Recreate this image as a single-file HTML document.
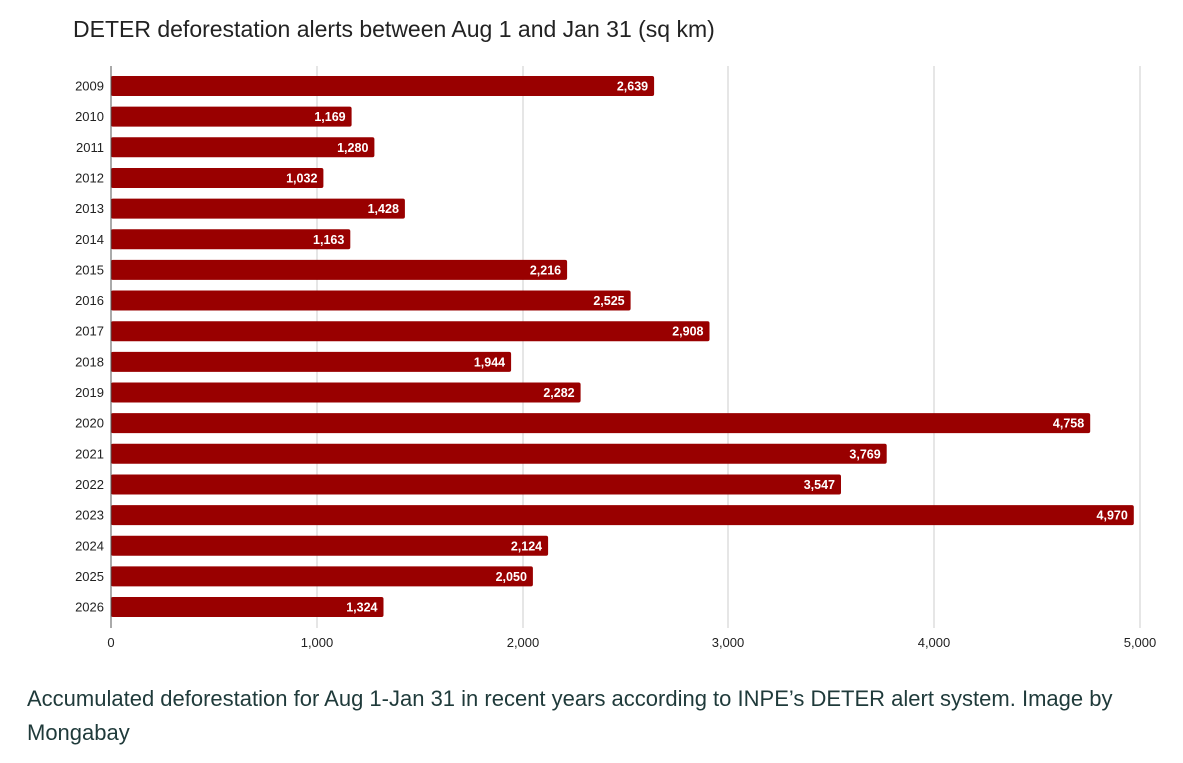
<!DOCTYPE html>
<html><head><meta charset="utf-8"><style>
body{margin:0;background:#fff;width:1183px;height:758px;overflow:hidden;font-family:"Liberation Sans",sans-serif}
</style></head><body>
<svg width="1183" height="758" xmlns="http://www.w3.org/2000/svg" font-family="Liberation Sans, sans-serif">
<text x="73" y="37" font-size="23" fill="#222">DETER deforestation alerts between Aug 1 and Jan 31 (sq km)</text>
<g stroke="#ccc" stroke-width="1">
<line x1="317" y1="66" x2="317" y2="628"/>
<line x1="523" y1="66" x2="523" y2="628"/>
<line x1="728" y1="66" x2="728" y2="628"/>
<line x1="934" y1="66" x2="934" y2="628"/>
<line x1="1140" y1="66" x2="1140" y2="628"/>
</g>
<g font-size="13" fill="#222" text-anchor="middle">
<text x="111" y="647">0</text><text x="317" y="647">1,000</text><text x="523" y="647">2,000</text><text x="728" y="647">3,000</text><text x="934" y="647">4,000</text><text x="1140" y="647">5,000</text>
</g>
<g fill="#990000">
<rect x="111" y="76" width="543.1" height="20" rx="2"/>
<rect x="111" y="106.65" width="240.6" height="20" rx="2"/>
<rect x="111" y="137.3" width="263.4" height="20" rx="2"/>
<rect x="111" y="167.95" width="212.4" height="20" rx="2"/>
<rect x="111" y="198.6" width="293.9" height="20" rx="2"/>
<rect x="111" y="229.25" width="239.3" height="20" rx="2"/>
<rect x="111" y="259.9" width="456.1" height="20" rx="2"/>
<rect x="111" y="290.55" width="519.6" height="20" rx="2"/>
<rect x="111" y="321.2" width="598.5" height="20" rx="2"/>
<rect x="111" y="351.85" width="400.1" height="20" rx="2"/>
<rect x="111" y="382.5" width="469.6" height="20" rx="2"/>
<rect x="111" y="413.15" width="979.2" height="20" rx="2"/>
<rect x="111" y="443.8" width="775.7" height="20" rx="2"/>
<rect x="111" y="474.45" width="730.0" height="20" rx="2"/>
<rect x="111" y="505.1" width="1022.8" height="20" rx="2"/>
<rect x="111" y="535.75" width="437.1" height="20" rx="2"/>
<rect x="111" y="566.4" width="421.9" height="20" rx="2"/>
<rect x="111" y="597.05" width="272.5" height="20" rx="2"/>
</g>
<g font-size="12.5" font-weight="bold" fill="#fff" text-anchor="end">
<text x="648.1" y="90.5">2,639</text>
<text x="345.6" y="121.15">1,169</text>
<text x="368.4" y="151.8">1,280</text>
<text x="317.4" y="182.45">1,032</text>
<text x="398.9" y="213.1">1,428</text>
<text x="344.3" y="243.75">1,163</text>
<text x="561.1" y="274.4">2,216</text>
<text x="624.6" y="305.05">2,525</text>
<text x="703.5" y="335.7">2,908</text>
<text x="505.1" y="366.35">1,944</text>
<text x="574.6" y="397">2,282</text>
<text x="1084.2" y="427.65">4,758</text>
<text x="880.7" y="458.3">3,769</text>
<text x="835.0" y="488.95">3,547</text>
<text x="1127.8" y="519.6">4,970</text>
<text x="542.1" y="550.25">2,124</text>
<text x="526.9" y="580.9">2,050</text>
<text x="377.5" y="611.55">1,324</text>
</g>
<g font-size="13" fill="#222" text-anchor="end">
<text x="104" y="90.5">2009</text>
<text x="104" y="121.15">2010</text>
<text x="104" y="151.8">2011</text>
<text x="104" y="182.45">2012</text>
<text x="104" y="213.1">2013</text>
<text x="104" y="243.75">2014</text>
<text x="104" y="274.4">2015</text>
<text x="104" y="305.05">2016</text>
<text x="104" y="335.7">2017</text>
<text x="104" y="366.35">2018</text>
<text x="104" y="397">2019</text>
<text x="104" y="427.65">2020</text>
<text x="104" y="458.3">2021</text>
<text x="104" y="488.95">2022</text>
<text x="104" y="519.6">2023</text>
<text x="104" y="550.25">2024</text>
<text x="104" y="580.9">2025</text>
<text x="104" y="611.55">2026</text>
</g>
<line x1="111" y1="66" x2="111" y2="628" stroke="#555" stroke-width="1"/>
<text x="27" y="706" font-size="22" fill="#1f3a3a">Accumulated deforestation for Aug 1-Jan 31 in recent years according to INPE’s DETER alert system. Image by</text>
<text x="27" y="740" font-size="22" fill="#1f3a3a">Mongabay</text>
</svg>
</body></html>
